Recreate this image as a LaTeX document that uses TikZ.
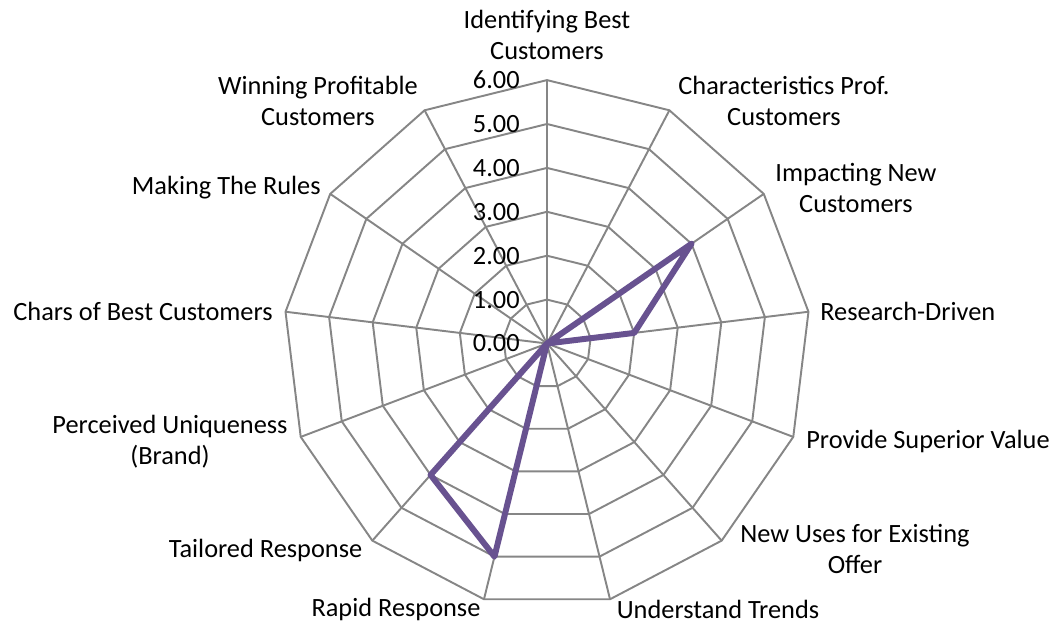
\documentclass[tikz,border=0pt]{standalone}
\usepackage{fontspec}
\setmainfont{Carlito}
\usetikzlibrary{positioning}
\definecolor{gridgray}{RGB}{134,134,134}
\definecolor{seriespurple}{RGB}{104,82,144}

\begin{document}
\begin{tikzpicture}[x=0.02cm, y=0.02cm, font=\fontsize{15}{17.6}\selectfont,
    grid/.style={draw=gridgray, line width=1.1pt},
    series/.style={draw=seriespurple, line width=3.4pt, line join=round},
    axislabel/.style={align=center, inner sep=0pt},
    ticklabel/.style={anchor=east, inner sep=0pt}]

  \useasboundingbox (-547,-285.5) rectangle (511,343.5);

  % rings and spokes
  \coordinate (o) at (0,0);
  \foreach \r in {1,...,6}
    \draw[grid] (90:43.9*\r) \foreach \k in {1,...,12} { -- ({90-\k*360/13}:43.9*\r) } -- cycle;
  \foreach \k in {0,...,12} {
    \coordinate (v\k) at ({90-\k*360/13}:263.4);
    \draw[grid] (o) -- (v\k);
  }

  % scale
  \foreach \v in {0,...,6}
    \node[ticklabel] (t\v) at (-27,43.9*\v) {\v.00};

  % series
  \foreach \v [count=\k from 0] in {0,0,4,2,0,0,0,5,4,0,0,0,0}
    \coordinate (p\k) at ({90-\k*360/13}:43.9*\v);
  \draw[series] (p0) \foreach \k in {1,...,12} { -- (p\k) } -- cycle;

  % categories
  \node[axislabel] (l0) at (0,308.5) {Identifying Best\\Customers};
  \node[axislabel] (l1) at (237,242.5) {Characteristics Prof.\\Customers};
  \node[axislabel] (l2) at (309,155.5) {Impacting New\\Customers};
  \node[axislabel, anchor=west] (l3) at (273,32.5) {Research-Driven};
  \node[axislabel, anchor=west] (l4) at (259,-97.5) {Provide Superior Value};
  \node[axislabel] (l5) at (308,-205.5) {New Uses for Existing\\Offer};
  \node[axislabel] (l6) at (171,-265.5) {Understand Trends};
  \node[axislabel] (l7) at (-151,-265.5) {Rapid Response};
  \node[axislabel] (l8) at (-281.5,-206.5) {Tailored Response};
  \node[axislabel] (l9) at (-377,-98.5) {Perceived Uniqueness\\(Brand)};
  \node[axislabel, anchor=east] (l10) at (-274,32.5) {Chars of Best Customers};
  \node[axislabel, anchor=east] (l11) at (-226,155.5) {Making The Rules};
  \node[axislabel] (l12) at (-229,242.5) {Winning Profitable\\Customers};
\end{tikzpicture}
\end{document}
